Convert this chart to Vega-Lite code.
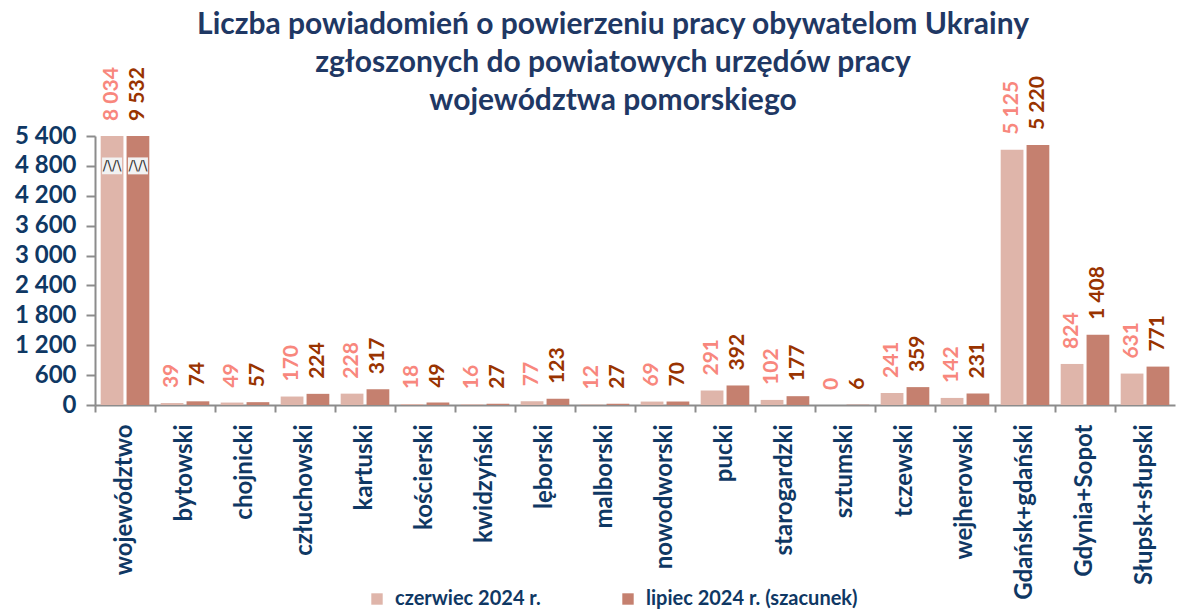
{
  "$schema": "https://vega.github.io/schema/vega-lite/v6.json",
  "width": 1080,
  "height": 269,
  "padding": {"left": 14, "top": 10, "right": 5, "bottom": 0},
  "background": "white",
  "title": {
    "text": ["Liczba powiadomień o powierzeniu pracy obywatelom Ukrainy", "zgłoszonych do powiatowych urzędów pracy", "województwa pomorskiego"],
    "font": "Lato",
    "fontSize": 30,
    "fontWeight": "bold",
    "color": "#1f3864",
    "lineHeight": 38,
    "anchor": "middle",
    "frame": "group",
    "dx": -22,
    "offset": -49
  },
  "config": {
    "view": {"stroke": null},
    "locale": {"number": {"decimal": ",", "thousands": " ", "grouping": [3], "currency": ["", " zł"]}},
    "font": "Lato"
  },
  "data": {
    "values": [
      {"powiat": "województwo", "seria": "czerwiec 2024 r.", "wartosc": 8034},
      {"powiat": "województwo", "seria": "lipiec 2024 r. (szacunek)", "wartosc": 9532},
      {"powiat": "bytowski", "seria": "czerwiec 2024 r.", "wartosc": 39},
      {"powiat": "bytowski", "seria": "lipiec 2024 r. (szacunek)", "wartosc": 74},
      {"powiat": "chojnicki", "seria": "czerwiec 2024 r.", "wartosc": 49},
      {"powiat": "chojnicki", "seria": "lipiec 2024 r. (szacunek)", "wartosc": 57},
      {"powiat": "człuchowski", "seria": "czerwiec 2024 r.", "wartosc": 170},
      {"powiat": "człuchowski", "seria": "lipiec 2024 r. (szacunek)", "wartosc": 224},
      {"powiat": "kartuski", "seria": "czerwiec 2024 r.", "wartosc": 228},
      {"powiat": "kartuski", "seria": "lipiec 2024 r. (szacunek)", "wartosc": 317},
      {"powiat": "kościerski", "seria": "czerwiec 2024 r.", "wartosc": 18},
      {"powiat": "kościerski", "seria": "lipiec 2024 r. (szacunek)", "wartosc": 49},
      {"powiat": "kwidzyński", "seria": "czerwiec 2024 r.", "wartosc": 16},
      {"powiat": "kwidzyński", "seria": "lipiec 2024 r. (szacunek)", "wartosc": 27},
      {"powiat": "lęborski", "seria": "czerwiec 2024 r.", "wartosc": 77},
      {"powiat": "lęborski", "seria": "lipiec 2024 r. (szacunek)", "wartosc": 123},
      {"powiat": "malborski", "seria": "czerwiec 2024 r.", "wartosc": 12},
      {"powiat": "malborski", "seria": "lipiec 2024 r. (szacunek)", "wartosc": 27},
      {"powiat": "nowodworski", "seria": "czerwiec 2024 r.", "wartosc": 69},
      {"powiat": "nowodworski", "seria": "lipiec 2024 r. (szacunek)", "wartosc": 70},
      {"powiat": "pucki", "seria": "czerwiec 2024 r.", "wartosc": 291},
      {"powiat": "pucki", "seria": "lipiec 2024 r. (szacunek)", "wartosc": 392},
      {"powiat": "starogardzki", "seria": "czerwiec 2024 r.", "wartosc": 102},
      {"powiat": "starogardzki", "seria": "lipiec 2024 r. (szacunek)", "wartosc": 177},
      {"powiat": "sztumski", "seria": "czerwiec 2024 r.", "wartosc": 0},
      {"powiat": "sztumski", "seria": "lipiec 2024 r. (szacunek)", "wartosc": 6},
      {"powiat": "tczewski", "seria": "czerwiec 2024 r.", "wartosc": 241},
      {"powiat": "tczewski", "seria": "lipiec 2024 r. (szacunek)", "wartosc": 359},
      {"powiat": "wejherowski", "seria": "czerwiec 2024 r.", "wartosc": 142},
      {"powiat": "wejherowski", "seria": "lipiec 2024 r. (szacunek)", "wartosc": 231},
      {"powiat": "Gdańsk+gdański", "seria": "czerwiec 2024 r.", "wartosc": 5125},
      {"powiat": "Gdańsk+gdański", "seria": "lipiec 2024 r. (szacunek)", "wartosc": 5220},
      {"powiat": "Gdynia+Sopot", "seria": "czerwiec 2024 r.", "wartosc": 824},
      {"powiat": "Gdynia+Sopot", "seria": "lipiec 2024 r. (szacunek)", "wartosc": 1408},
      {"powiat": "Słupsk+słupski", "seria": "czerwiec 2024 r.", "wartosc": 631},
      {"powiat": "Słupsk+słupski", "seria": "lipiec 2024 r. (szacunek)", "wartosc": 771}
    ]
  },
  "encoding": {
    "x": {
      "field": "powiat",
      "type": "nominal",
      "sort": null,
      "title": null,
      "scale": {"paddingInner": 0, "paddingOuter": 0},
      "axis": {
        "bandPosition": 0,
        "labelAngle": -90,
        "labelFont": "Lato",
        "labelFontSize": 24,
        "labelFontWeight": "bold",
        "labelColor": "#0f3864",
        "labelPadding": 12,
        "labelLimit": 400,
        "domainColor": "#8c8c8c",
        "domainWidth": 2,
        "tickColor": "#8c8c8c",
        "tickWidth": 2,
        "tickSize": 7
      }
    },
    "xOffset": {
      "field": "seria",
      "type": "nominal",
      "scale": {"paddingInner": 0.12, "paddingOuter": 0.22}
    },
    "y": {
      "field": "wartosc",
      "type": "quantitative",
      "title": null,
      "scale": {"domain": [0, 5400], "clamp": true, "nice": false},
      "axis": {
        "values": [0, 600, 1200, 1800, 2400, 3000, 3600, 4200, 4800, 5400],
        "format": ",d",
        "grid": false,
        "labelFont": "Lato",
        "labelFontSize": 24,
        "labelFontWeight": "bold",
        "labelColor": "#0f3864",
        "labelPadding": 10,
        "domainColor": "#8c8c8c",
        "domainWidth": 2,
        "tickColor": "#8c8c8c",
        "tickWidth": 2,
        "tickSize": 9
      }
    }
  },
  "layer": [
    {
      "mark": {"type": "bar"},
      "encoding": {
        "color": {
          "field": "seria",
          "type": "nominal",
          "title": null,
          "scale": {"domain": ["czerwiec 2024 r.", "lipiec 2024 r. (szacunek)"], "range": ["#dfb5aa", "#c5806f"]},
          "legend": {
            "orient": "none",
            "legendX": 272,
            "legendY": 453,
            "direction": "horizontal",
            "symbolType": "square",
            "symbolSize": 130,
            "symbolStrokeWidth": 0,
            "labelFont": "Lato",
            "labelFontSize": 20,
            "labelFontWeight": "bold",
            "labelColor": "#0f3864",
            "labelLimit": 400,
            "columnPadding": 77,
            "labelOffset": 8
          }
        }
      }
    },
    {
      "mark": {"type": "text", "angle": 270, "align": "left", "baseline": "middle", "dx": 15, "font": "Lato", "fontSize": 21, "fontWeight": "bold"},
      "encoding": {
        "text": {"field": "wartosc", "type": "quantitative", "format": ",d"},
        "color": {
          "condition": {"test": "datum.seria === 'czerwiec 2024 r.'", "value": "#f8877d"},
          "value": "#993300"
        }
      }
    },
    {
      "transform": [{"filter": "datum.powiat === 'województwo'"}],
      "mark": {"type": "bar", "color": "#f2f2f2", "width": 20},
      "encoding": {
        "y": {"datum": 4630},
        "y2": {"datum": 4970}
      }
    },
    {
      "transform": [{"filter": "datum.powiat === 'województwo'"}],
      "mark": {"type": "text", "text": "/\\/\\", "font": "DejaVu Sans", "fontSize": 14, "color": "#333333", "baseline": "middle", "align": "center"},
      "encoding": {
        "y": {"datum": 4800}
      }
    }
  ]
}
